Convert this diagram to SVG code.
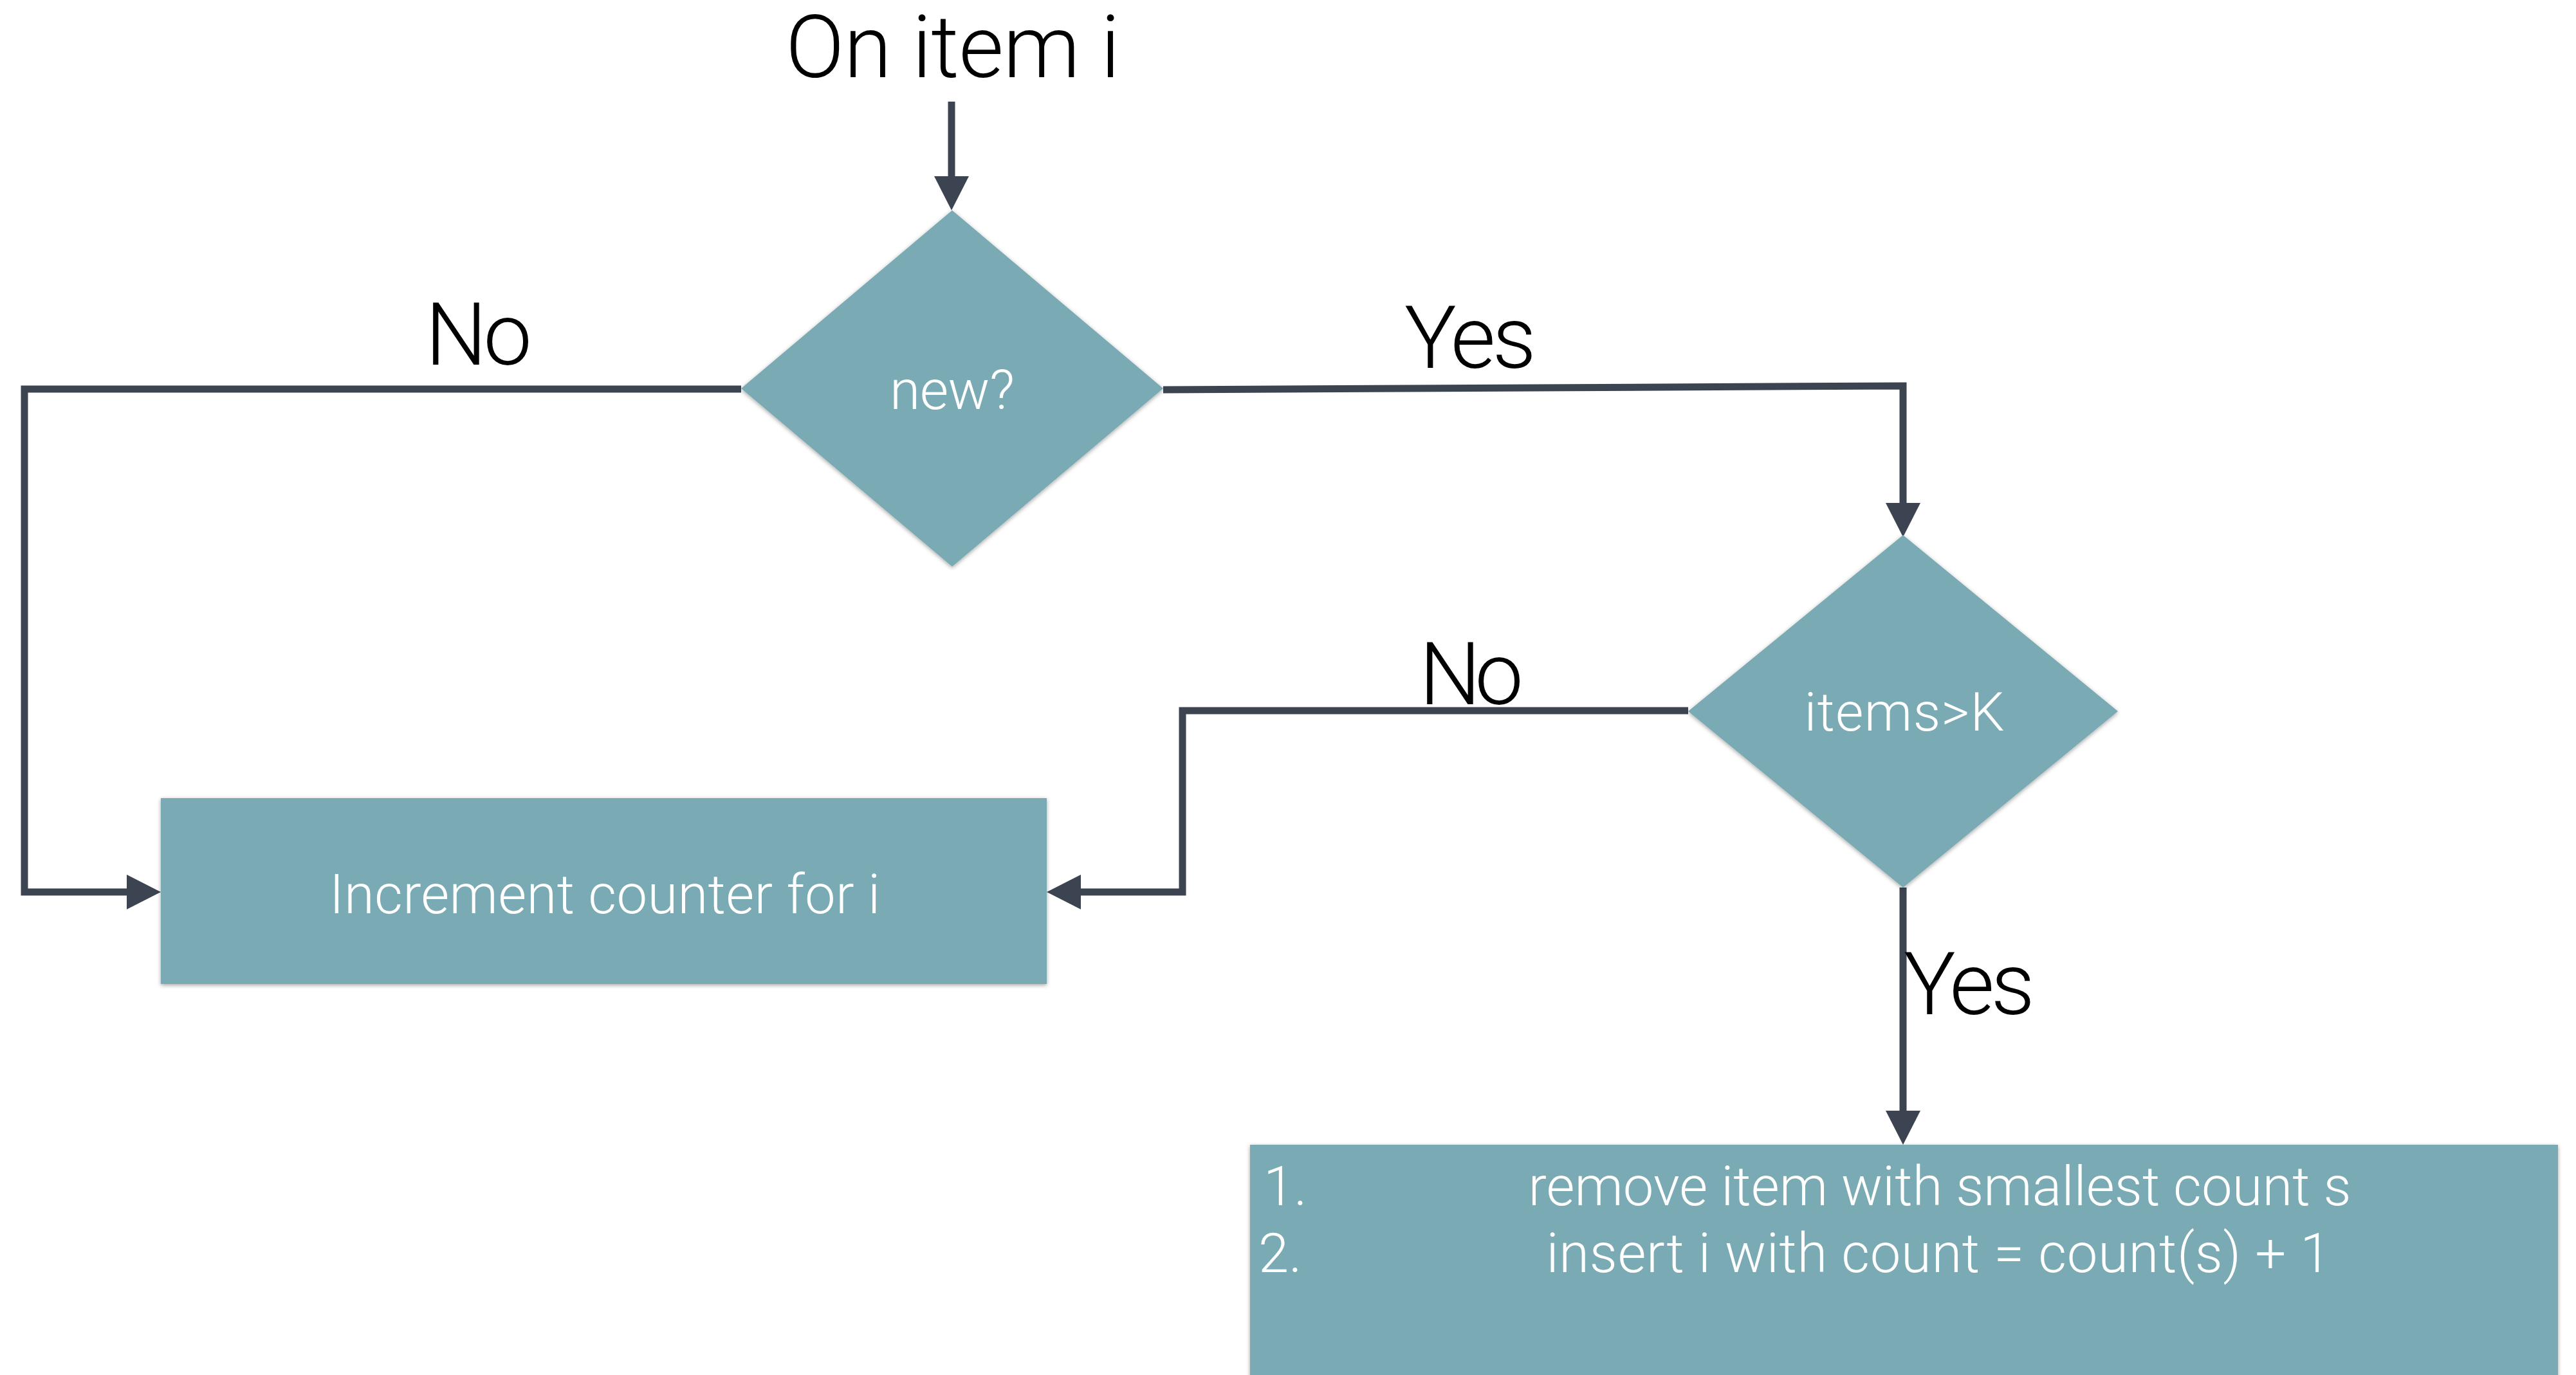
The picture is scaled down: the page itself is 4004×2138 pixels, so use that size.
<svg xmlns="http://www.w3.org/2000/svg" width="4004" height="2138" viewBox="0 0 4004 2138">
<style>
.node{fill:#7AAAB3;filter:url(#sh)}
.nt{fill:#ffffff;font-family:Roboto,"Liberation Sans",sans-serif;font-weight:300}
.lbl{fill:#000000;font-family:Roboto,"Liberation Sans",sans-serif;font-weight:300;font-size:135px}
.con{fill:none;stroke:#3D4451;stroke-width:11;stroke-linejoin:miter;stroke-linecap:butt;marker-end:url(#ah)}
</style>
<defs>
<filter id="sh" x="-5%" y="-5%" width="110%" height="110%">
<feDropShadow dx="0" dy="2" stdDeviation="3" flood-color="#000" flood-opacity="0.35"/>
</filter>
<marker id="ah" viewBox="0 0 53 54" markerWidth="53" markerHeight="54" refX="0" refY="27" orient="auto" markerUnits="userSpaceOnUse">
<path d="M0,0 L53,27 L0,54 Z" fill="#3D4451"/>
</marker>
</defs>
<rect width="4004" height="2138" fill="#ffffff"/>
<g id="connectors">
<path class="con" d="M1479,158 L1479,274"/>
<path class="con" d="M1152,605 L38,605 L38,1387 L197,1387"/>
<path class="con" d="M1808,606 L2958,600 L2958,782"/>
<path class="con" d="M2624,1105 L1838,1105 L1838,1387 L1680,1387"/>
<path class="con" d="M2958,1380 L2958,1727"/>
</g>
<g id="start">
<text class="lbl" x="1481" y="120" text-anchor="middle" textLength="520">On item i</text>
</g>
<g id="labels">
<text class="lbl" x="661" y="567" textLength="166">No</text>
<text class="lbl" x="2183" y="572" textLength="205">Yes</text>
<text class="lbl" x="2206" y="1095" textLength="162">No</text>
<text class="lbl" x="2959" y="1577" textLength="204">Yes</text>
</g>
<g id="new">
<polygon class="node" points="1480,327 1808,604 1480,881 1152,604"/>
<text class="nt" x="1480" y="636" font-size="86" text-anchor="middle" textLength="194">new?</text>
</g>
<g id="items">
<polygon class="node" points="2958,832 3292,1106 2958,1380 2624,1106"/>
<text class="nt" x="2960" y="1136" font-size="84" text-anchor="middle" textLength="311">items&gt;K</text>
</g>
<g id="increment">
<rect class="node" x="250" y="1241" width="1377" height="289"/>
<text class="nt" x="940" y="1420" font-size="85" text-anchor="middle" textLength="856">Increment counter for i</text>
</g>
<g id="replace">
<rect class="node" x="1943" y="1780" width="2033" height="420"/>
<text class="nt" x="1964" y="1874" font-size="85">1.</text>
<text class="nt" x="1956" y="1978" font-size="85">2.</text>
<text class="nt" x="3015" y="1874" font-size="85" text-anchor="middle" textLength="1279">remove item with smallest count s</text>
<text class="nt" x="3013" y="1978" font-size="85" text-anchor="middle" textLength="1219">insert i with count = count(s) + 1</text>
</g>
</svg>
